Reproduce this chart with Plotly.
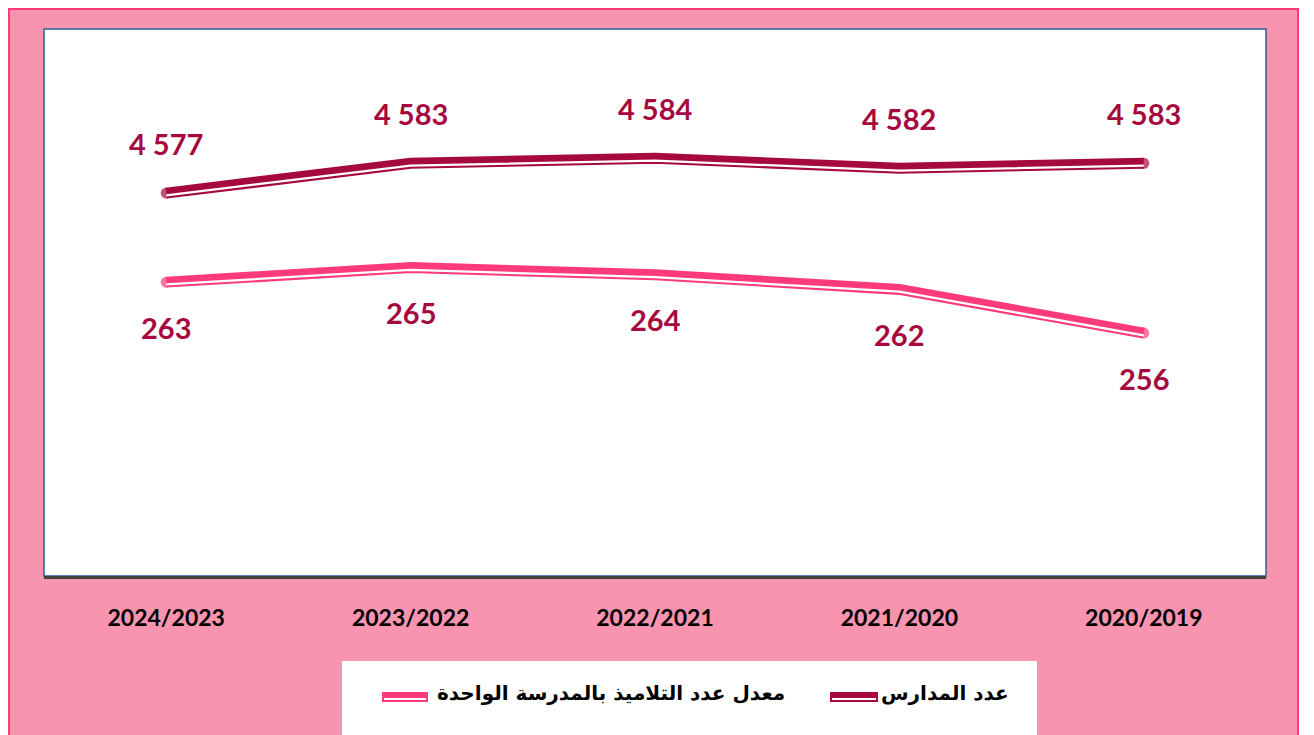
import plotly.graph_objects as go

# ---- data ----
years = ["2024/2023", "2023/2022", "2022/2021", "2021/2020", "2020/2019"]
schools = [4577, 4583, 4584, 4582, 4583]
avg_students = [263, 265, 264, 262, 256]
legend_names = ["عدد المدارس", "معدل عدد التلاميذ بالمدرسة الواحدة"]

# ---- style ----
MAROON = "#A6093D"
PINK = "#FF3A7A"
BG = "#F994B0"
FRAME = "#FF3A7A"
BLUE = "#2E5E9C"
OFF_PAGE = 8                      # body margin of the html page
W, H = 1314 - OFF_PAGE, 735 - OFF_PAGE
# plot area in page px
PL, PR, PT, PB = 44, 1266, 29, 576
L, R, T, B = PL - OFF_PAGE, PR - OFF_PAGE, PT - OFF_PAGE, PB - OFF_PAGE


def px(xp):
    return (xp - PL) / (PR - PL)


def py(yp):
    return (PB - yp) / (PB - PT)


Y1 = [4500, 4610]
Y2 = [222.6, 297.8]
OFF = 2.3  # px offset of the white inner stripe
s1 = OFF * (Y1[1] - Y1[0]) / (PB - PT)
s2 = OFF * (Y2[1] - Y2[0]) / (PB - PT)

fmt = lambda v: f"{v:,}".replace(",", " ")
idx = list(range(len(years)))
end_sizes = [11 if i in (0, len(years) - 1) else 0 for i in idx]

fig = go.Figure()
fig.add_trace(go.Scatter(x=years, y=schools, mode="lines+markers", yaxis="y",
                         line=dict(color=MAROON, width=11),
                         marker=dict(color=MAROON, size=end_sizes, line=dict(width=0)),
                         showlegend=False, hoverinfo="skip"))
fig.add_trace(go.Scatter(x=years, y=schools, mode="lines", yaxis="y3",
                         line=dict(color="white", width=2.3),
                         showlegend=False, hoverinfo="skip"))
fig.add_trace(go.Scatter(x=years, y=avg_students, mode="lines+markers", yaxis="y2",
                         line=dict(color=PINK, width=11),
                         marker=dict(color=PINK, size=end_sizes, line=dict(width=0)),
                         showlegend=False, hoverinfo="skip"))
fig.add_trace(go.Scatter(x=years, y=avg_students, mode="lines", yaxis="y4",
                         line=dict(color="white", width=2.3),
                         showlegend=False, hoverinfo="skip"))

label_font = dict(family="Lato, 'Liberation Sans', sans-serif", size=29, color=MAROON, weight="bold")
ann = []
for i in idx:
    ann.append(dict(x=i, y=schools[i], xref="x", yref="y", text=fmt(schools[i]),
                    showarrow=False, yshift=50, font=label_font))
    ann.append(dict(x=i, y=avg_students[i], xref="x", yref="y2", text=fmt(avg_students[i]),
                    showarrow=False, yshift=-45, font=label_font))

leg_font = dict(family="'DejaVu Sans', sans-serif", size=20, color="black", weight="bold")
ann.append(dict(x=px(945), y=py(693), xref="paper", yref="paper", text=legend_names[0],
                showarrow=False, xanchor="center", yanchor="middle", font=leg_font))
ann.append(dict(x=px(611), y=py(693), xref="paper", yref="paper", text=legend_names[1],
                showarrow=False, xanchor="center", yanchor="middle", font=leg_font))

shapes = [
    dict(type="rect", xref="paper", yref="paper", x0=px(9), x1=px(1298), y0=py(745), y1=py(9),
         fillcolor=BG, line=dict(color=FRAME, width=2), layer="below"),
    dict(type="rect", xref="paper", yref="paper", x0=0, x1=1, y0=0, y1=1,
         fillcolor="white", line=dict(color=BLUE, width=1.5), layer="below"),
    dict(type="rect", xref="paper", yref="paper", x0=px(342), x1=px(1037), y0=py(745), y1=py(661),
         fillcolor="white", line=dict(width=0), layer="below"),
    # legend symbols
    dict(type="line", xref="paper", yref="paper", x0=px(830), x1=px(878), y0=py(697), y1=py(697),
         line=dict(color=MAROON, width=10)),
    dict(type="line", xref="paper", yref="paper", x0=px(832), x1=px(876), y0=py(699), y1=py(699),
         line=dict(color="white", width=2)),
    dict(type="line", xref="paper", yref="paper", x0=px(382), x1=px(428), y0=py(697), y1=py(697),
         line=dict(color=PINK, width=10)),
    dict(type="line", xref="paper", yref="paper", x0=px(384), x1=px(426), y0=py(699), y1=py(699),
         line=dict(color="white", width=2)),
]

fig.update_layout(
    width=W, height=H,
    margin=dict(l=L, r=W - R, t=T, b=H - B, pad=0),
    paper_bgcolor="white", plot_bgcolor="rgba(0,0,0,0)",
    showlegend=False,
    xaxis=dict(type="category", categoryorder="array", categoryarray=years,
               range=[-0.5, len(years) - 0.5], showgrid=False, zeroline=False,
               showline=True, linecolor="#404040", linewidth=3, ticks="",
               ticklabelstandoff=19,
               tickfont=dict(family="Lato, 'Liberation Sans', sans-serif", size=23,
                             color="black", weight="bold")),
    yaxis=dict(range=Y1, visible=False),
    yaxis2=dict(range=Y2, visible=False, overlaying="y"),
    yaxis3=dict(range=[Y1[0] + s1, Y1[1] + s1], visible=False, overlaying="y"),
    yaxis4=dict(range=[Y2[0] + s2, Y2[1] + s2], visible=False, overlaying="y"),
    annotations=ann,
    shapes=shapes,
)

fig.write_html("out.html")
